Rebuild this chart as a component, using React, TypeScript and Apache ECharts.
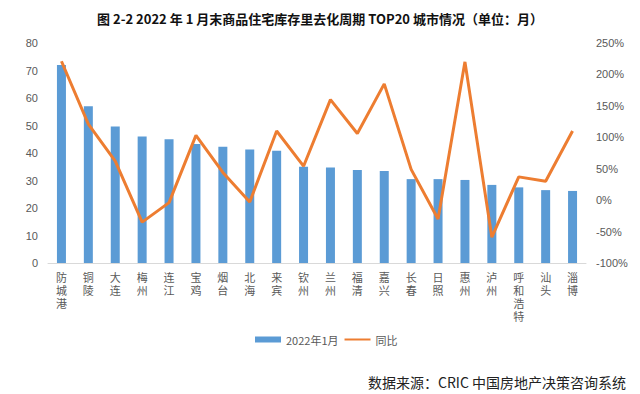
import React, { useEffect, useRef } from "react";
import * as echarts from "echarts";

const cities = ["防城港", "铜陵", "大连", "梅州", "连江", "宝鸡", "烟台", "北海", "来宾", "钦州", "兰州", "福清", "嘉兴", "长春", "日照", "惠州", "泸州", "呼和浩特", "汕头", "淄博"];
const months = [72, 57, 49.6, 46, 45, 43.3, 42.3, 41.3, 40.8, 35, 34.7, 33.8, 33.5, 30.5, 30.5, 30.2, 28.4, 27.5, 26.5, 26.2];
const yoy = [221, 121, 62, -35, -4, 103, 44, -3, 110, 54, 160, 106, 185, 49, -30, 220, -59, 37, 30, 110];
const leftTicks = [0, 80, 10];
const rightTicks = [-100, 250, 50];

export default function App() {
  const ref = useRef<HTMLDivElement>(null);
  useEffect(() => {
    if (!ref.current) return;
    const chart = echarts.init(ref.current, null, { renderer: "svg" });
    chart.setOption({
      animation: false,
      backgroundColor: "#fff",
      title: {
        text: "图 2-2 2022 年 1 月末商品住宅库存里去化周期 TOP20 城市情况（单位：月）",
        left: "center",
        top: 7,
        textStyle: { fontSize: 13, fontWeight: "bold", color: "#111", fontFamily: "Noto Sans CJK SC" },
      },
      grid: { left: 48, right: 54, top: 43, bottom: 131 },
      legend: {
        bottom: 44,
        left: 250,
        itemGap: 6,
        itemWidth: 26,
        itemHeight: 6,
        textStyle: { fontSize: 11, color: "#595959", fontFamily: "Noto Sans CJK SC" },
        data: [
          { name: "2022年1月", icon: "rect" },
          { name: "同比", icon: "path://M0,0 L26,0 L26,2 L0,2 Z" },
        ],
      },
      graphic: [
        {
          type: "text",
          right: 14,
          bottom: 5,
          style: { text: "数据来源：CRIC 中国房地产决策咨询系统", fontSize: 14, fill: "#222", fontFamily: "Noto Sans CJK SC" },
        },
      ],
      xAxis: {
        type: "category",
        data: cities,
        axisLine: { lineStyle: { color: "#d9d9d9" } },
        axisTick: { show: false },
        axisLabel: {
          interval: 0,
          fontSize: 11,
          lineHeight: 13,
          color: "#595959",
          margin: 8,
          fontFamily: "'Liberation Sans', 'Noto Sans CJK SC'",
          formatter: (v: string) => v.split("").join("\n"),
        },
      },
      yAxis: [
        {
          type: "value",
          min: leftTicks[0],
          max: leftTicks[1],
          interval: leftTicks[2],
          splitLine: { show: false },
          axisLabel: { fontSize: 11, color: "#595959", margin: 10 },
        },
        {
          type: "value",
          min: rightTicks[0],
          max: rightTicks[1],
          interval: rightTicks[2],
          splitLine: { show: false },
          axisLabel: { fontSize: 11, color: "#595959", margin: 10, formatter: "{value}%" },
        },
      ],
      series: [
        {
          name: "2022年1月",
          type: "bar",
          data: months,
          barWidth: 9,
          itemStyle: { color: "#5B9BD5" },
        },
        {
          name: "同比",
          type: "line",
          yAxisIndex: 1,
          data: yoy,
          symbol: "none",
          lineStyle: { color: "#ED7D31", width: 3 },
          itemStyle: { color: "#ED7D31" },
        },
      ],
    });
    return () => chart.dispose();
  }, []);
  return <div ref={ref} style={{ width: 640, height: 394, position: "absolute", left: 0, top: 0 }} />;
}
